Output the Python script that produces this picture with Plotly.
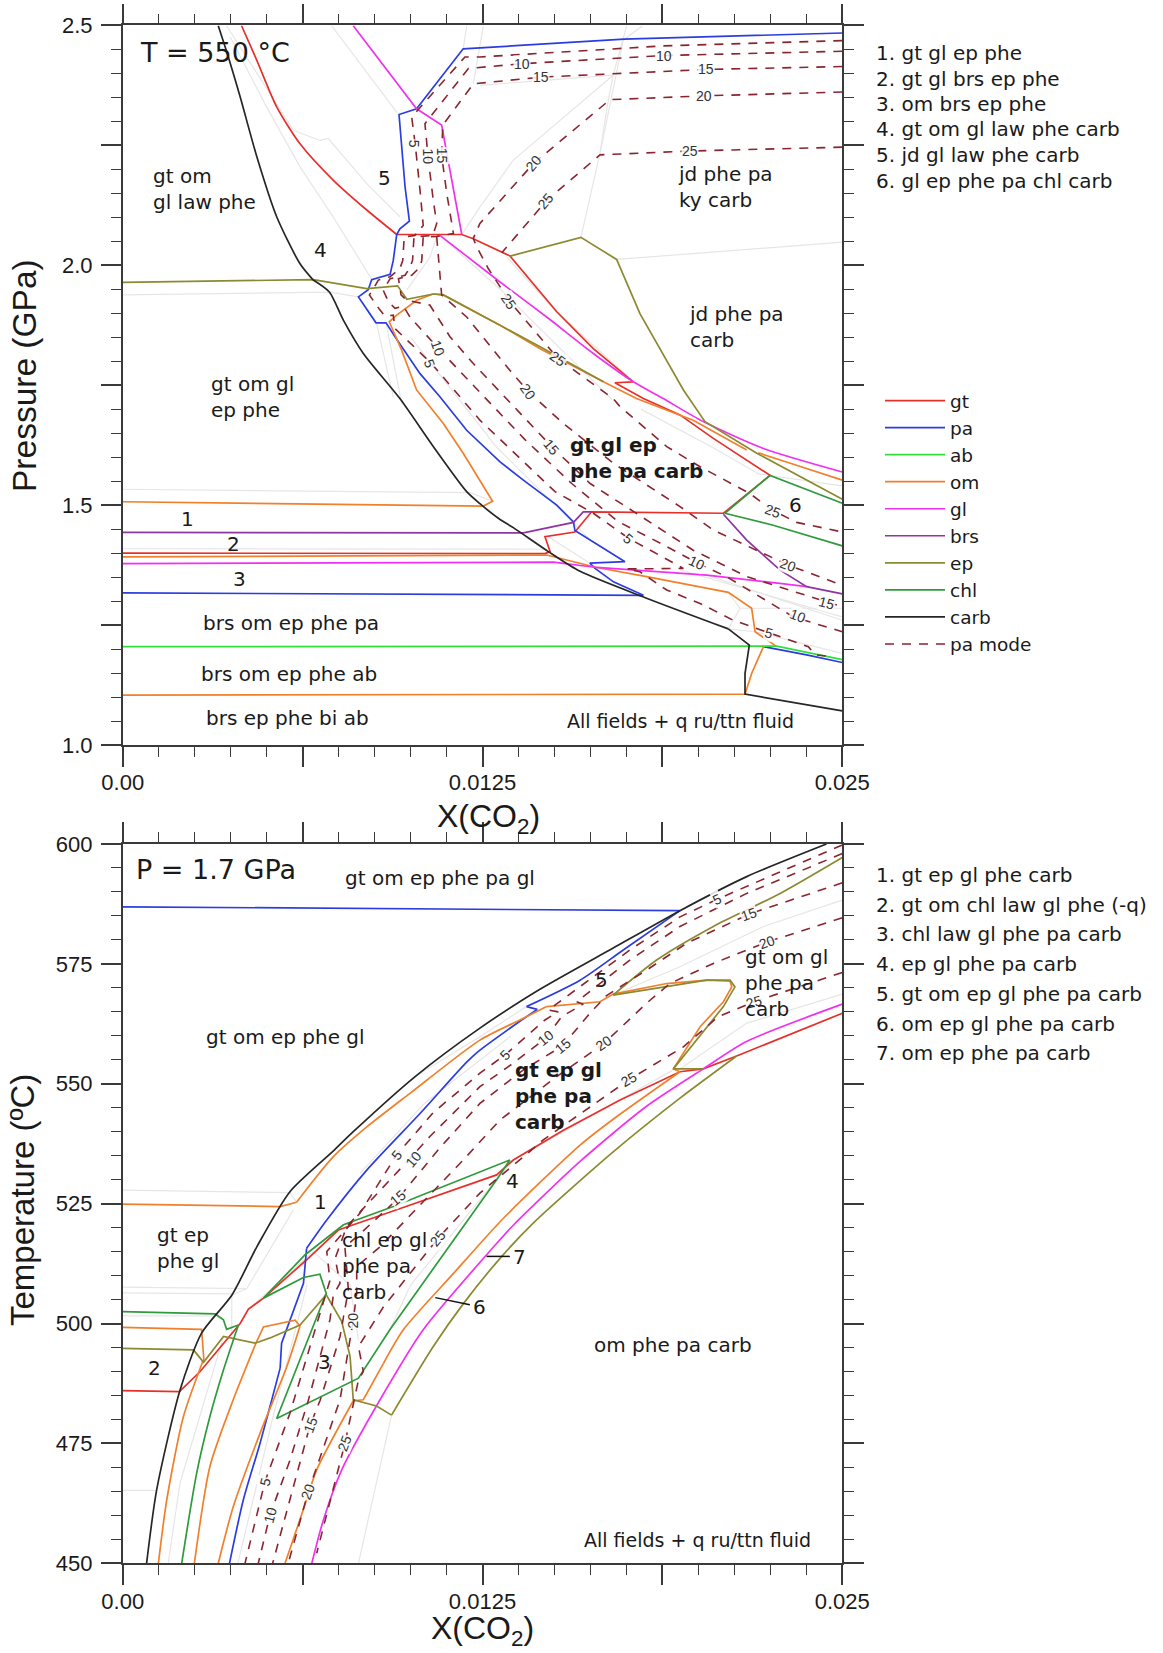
import plotly.graph_objects as go

# X(CO2) values are written in units of 1e-3; second value is P (GPa) or T (deg C)
XSCALE = 1e-3

# ---------- top panel, T = 550 C ----------
top_gt1 = [(4.13,2.499),(4.66,2.427),(5.35,2.330),(6.16,2.253),(7.32,2.177),(8.48,2.115),(9.52,2.064)]
top_gt2 = [(9.52,2.064),(11.78,2.064),(12.18,2.055),(13.46,2.019),(15.08,1.903),(16.35,1.826),(17.74,1.757),(17.10,1.755),(18.09,1.722),(19.36,1.688),(20.52,1.639),(22.49,1.562),(20.87,1.483),(16.29,1.486),(15.71,1.444),(14.67,1.434),(14.85,1.403),(14.67,1.399),(0,1.400)]
top_pa1 = [(25,2.484),(18.76,2.474),(17.42,2.471),(13.8,2.458),(11.83,2.451),(10.21,2.326),(9.60,2.314),(9.81,2.163),(9.96,2.092),(9.63,2.076),(9.52,2.064),(9.40,2.010),(9.29,1.981),(8.65,1.970),(8.53,1.949),(8.19,1.934),(8.80,1.880),(9.15,1.880),(9.46,1.851),(10.33,1.774),(11.02,1.726),(11.95,1.656),(13.11,1.590),(13.92,1.552),(15.08,1.500),(15.66,1.465),(15.71,1.447),(17.45,1.382),(16.23,1.379),(16.41,1.368),(17.05,1.340),(18.09,1.312),(0,1.317)]
top_pa2 = [(22.26,1.205),(23.76,1.188),(25,1.172)]
top_ab = [(0,1.205),(22.72,1.206),(25,1.178)]
top_om1 = [(0,1.507),(12.53,1.498),(12.85,1.508),(11.83,1.608),(11.14,1.670),(10.21,1.740),(9.69,1.823),(9.26,1.882),(9.52,1.896),(10.21,1.927),(10.79,1.940),(11.14,1.938),(13.11,1.875),(14.5,1.826),(16.7,1.757),(17.85,1.722),(19.82,1.677),(21.68,1.615)]
top_om2 = [(22.08,1.609),(23.41,1.583),(25,1.552)]
top_om3 = [(0,1.392),(14.73,1.396),(16.47,1.370),(18.2,1.351),(21.04,1.318),(21.85,1.285),(21.97,1.236),(22.7,1.206)]
top_om4 = [(0,1.104),(21.62,1.106),(21.85,1.149),(22.26,1.205)]
top_gl1 = [(8.01,2.499),(10.21,2.326),(11.08,2.292),(11.43,2.177),(11.78,2.064)]
top_gl2 = [(11.02,2.062),(13.11,1.965),(14.73,1.892),(16.35,1.816),(17.74,1.757),(18.78,1.722),(20.17,1.674),(22.26,1.618),(25,1.569)]
top_gl3 = [(0,1.378),(14.96,1.381),(16.47,1.370),(20.29,1.354),(22.83,1.337),(23.76,1.330)]
top_brs1 = [(0,1.443),(13.92,1.442),(15.66,1.464),(16.0,1.486),(16.29,1.486)]
top_brs2 = [(20.87,1.481),(21.68,1.427),(22.83,1.365),(23.76,1.330),(25,1.315)]
top_ep1 = [(0,1.964),(6.62,1.970),(8.48,1.951),(9.55,1.957),(9.87,1.929),(10.79,1.940),(11.14,1.938),(13.11,1.875),(14.5,1.830),(16.7,1.757)]
top_ep2 = [(13.46,2.019),(15.92,2.058),(17.16,2.012),(17.97,1.899),(19.48,1.740),(20.23,1.674),(22.03,1.608),(25,1.512)]
top_chl1 = [(25,1.504),(22.49,1.562),(20.92,1.483),(22.6,1.458),(25,1.415)]
top_carb1 = [(3.32,2.499),(3.67,2.434),(4.08,2.351),(4.66,2.226),(5.35,2.101),(6.16,2.003),(6.62,1.969)]
top_carb2 = [(6.62,1.969),(7.18,1.944),(7.67,1.885),(8.36,1.816),(9.63,1.722),(10.79,1.622),(11.95,1.528),(12.41,1.503),(13.11,1.470),(13.57,1.453),(14.79,1.403),(15.89,1.362),(18.20,1.306),(21.04,1.242)]
top_carb3 = [(21.04,1.242),(21.77,1.208),(21.62,1.149),(21.62,1.106),(25,1.071)]
top_mode5 = [(25,2.468),(18.76,2.457),(12.41,2.434),(11.89,2.434),(10.04,2.309),(10.16,2.253),(10.33,2.156),(10.44,2.083),(10.15,2.062),(9.78,2.059),(9.73,2.010),(9.63,1.993),(9.29,1.976),(8.88,1.969),(8.71,1.951),(8.57,1.938),(8.92,1.908),(9.11,1.894),(9.40,1.896),(9.46,1.868),(10.73,1.795),(12.41,1.677),(15.02,1.528),(16.35,1.483),(17.57,1.431),(19.48,1.368),(17.51,1.367),(17.97,1.361),(18.90,1.323),(20.06,1.295),(21.21,1.260),(22.03,1.243),(22.84,1.226),(23.82,1.205),(24.05,1.188),(24.69,1.184)]
top_mode10 = [(25,2.446),(18.82,2.437),(13.86,2.420),(12.41,2.411),(12.01,2.410),(10.5,2.295),(10.62,2.219),(10.79,2.135),(10.91,2.087),(10.77,2.062),(10.12,2.059),(10.07,2.010),(9.98,1.995),(9.81,1.979),(9.29,1.972),(9.05,1.948),(9.23,1.924),(9.46,1.910),(9.75,1.915),(9.98,1.892),(11.02,1.823),(12.41,1.735),(14.0,1.635),(15.6,1.545),(17.2,1.466),(18.7,1.42),(19.94,1.380),(21.0,1.350),(21.67,1.326),(23.30,1.267),(25,1.236)]
top_mode15 = [(25,2.414),(20.29,2.408),(14.55,2.392),(12.41,2.378),(12.18,2.378),(11.12,2.292),(11.08,2.229),(11.26,2.149),(11.49,2.066),(10.91,2.060),(10.44,2.059),(10.39,2.010),(10.33,1.996),(10.04,1.979),(9.58,1.972),(9.67,1.938),(9.87,1.927),(10.67,1.917),(11.37,1.851),(12.18,1.795),(14.90,1.622),(16.24,1.545),(18.2,1.469),(19.82,1.406),(21.68,1.351),(24.46,1.297),(25,1.288)]
top_mode20a = [(10.91,2.059),(11.08,1.938),(11.95,1.892),(13.45,1.781),(14.15,1.733),(15.31,1.670),(17.05,1.587),(19.36,1.497),(20.52,1.448),(22.26,1.399),(23.12,1.375),(25,1.333)]
top_mode20b = [(25,2.361),(20.23,2.353),(16.93,2.345),(14.27,2.212),(12.41,2.087),(12.18,2.056),(12.3,2.038),(12.70,1.993),(13.45,1.924),(15.13,1.805),(17.04,1.722),(17.28,1.705),(18.9,1.622),(20.06,1.580),(21.79,1.524),(22.55,1.490),(23.41,1.464),(25,1.444)]
top_mode25 = [(25,2.246),(19.71,2.238),(16.58,2.230),(14.73,2.135),(13.17,2.026)]
top_grey = [
 [(7.26,2.499),(9.52,2.319)],
 [(3.61,2.499),(4.89,2.378),(5.93,2.281),(6.85,2.260),(7.14,2.264),(8.48,2.170),(9.63,2.101)],
 [(3.73,2.476),(5.0,2.33),(6.16,2.205),(7.32,2.10),(8.71,1.965)],
 [(0,1.938),(7.2,1.944),(8.19,1.934)],
 [(11.95,2.499),(11.83,2.451)],
 [(12.53,2.499),(12.18,2.378)],
 [(17.51,2.499),(17.04,2.396),(16.87,2.344),(16.58,2.233),(15.92,2.058)],
 [(18.06,2.499),(17.39,2.469),(16.58,2.233)],
 [(17.04,2.396),(13.57,2.219),(12.41,2.121),(11.78,2.064)],
 [(12.41,2.375),(17.04,2.396)],
 [(17.16,2.012),(25,2.048)],
 [(13.34,2.017),(15.02,1.906),(17.74,1.757)],
 [(0,1.533),(12.07,1.526),(12.85,1.508)],
 [(0,1.409),(14.6,1.408)],
 [(14.79,1.434),(16.23,1.379)],
 [(21.04,1.318),(21.45,1.285),(21.04,1.242)],
 [(21.04,1.242),(21.97,1.236),(25,1.191)],
 [(21.45,1.285),(25,1.285)],
 [(19.36,1.365),(25,1.267)],
 [(20.29,1.354),(25,1.260)],
 [(8.82,1.878),(9.40,1.726)],
 [(9.15,1.880),(9.69,1.712)],
 [(10.0,1.85),(13,1.62),(16.2,1.43)],
 [(18.0,1.70),(20.5,1.62),(22.1,1.565),(25,1.54)],
 [(10.91,2.06),(10.68,2.017),(9.87,1.948)],
 [(11.02,2.062),(13.11,1.95),(17.0,1.72)],
]
top_contour_labels = [("5",10.10,2.252,90),("10",10.62,2.226,90),("15",11.08,2.229,90),("10",10.97,1.826,70),("5",10.68,1.795,70),
 ("10",13.86,2.420,0),("10",18.82,2.437,0),("15",14.53,2.392,0),("15",20.25,2.408,0),("20",20.2,2.352,0),("25",19.71,2.238,0),
 ("20",14.29,2.212,-50),("25",14.69,2.133,-50),("25",13.43,1.924,55),("25",15.13,1.805,35),("20",14.09,1.736,55),
 ("15",14.90,1.622,50),("5",17.57,1.429,40),("10",19.96,1.380,25),("25",22.58,1.488,20),("20",23.12,1.375,20),("15",24.46,1.297,15),("10",23.47,1.269,20),("5",22.46,1.234,15)]
top_fields = [("gt om<br>gl law phe",1.03,2.159,False),("gt om gl<br>ep phe",3.04,1.725,False),("jd phe pa<br>ky carb",19.25,2.162,False),("jd phe pa<br>carb",19.65,1.872,False),
 ("gt gl ep<br>phe pa carb",15.51,1.599,True),("brs om ep phe pa",2.75,1.255,False),("brs om ep phe ab",2.68,1.149,False),("brs ep phe bi ab",2.86,1.057,False),("All fields + q ru/ttn fluid",15.4,1.05,False),
 ("1",2.0,1.472,False),("2",3.6,1.419,False),("3",3.8,1.345,False),("4",6.6,2.032,False),("5",8.85,2.181,False),("6",23.1,1.5,False)]
top_list = ["1. gt gl ep phe","2. gt gl brs ep phe","3. om brs ep phe","4. gt om gl law phe carb","5. jd gl law phe carb","6. gl ep phe pa chl carb"]

# ---------- bottom panel, P = 1.7 GPa ----------
bot_gt = [(0,486),(1.97,485.8),(2.69,490),(4.08,500),(4.37,503),(4.89,505.3),(6.39,513.3),(7.49,519.5),(9.17,523),(12.99,531),(13.57,534.1),(15.31,540.3),(17.28,546.6),(19.36,552.5),(20.17,553.1),(21.33,555.8),(25,564.7)]
bot_pa1 = [(0,586.9),(19.36,586.1)]
bot_pa2 = [(19.36,586.1),(17.39,577.9),(15.89,571.6),(14.03,566.1)]
bot_pa3 = [(14.03,566.1),(14.40,565.5),(13.86,563.3)]
bot_pa4 = [(13.86,563.3),(12.41,557.0),(11.95,554.5),(10.33,543.8),(8.48,532.0),(7.09,521.6),(6.39,515.7)]
bot_pa5 = [(6.39,515.7),(6.28,508.4),(5.52,495.9),(5.47,490.7)]
bot_pa6 = [(5.47,490.7),(4.77,475.0),(4.19,463.2),(3.71,450)]
bot_om1 = [(0,524.9),(5.47,524.4),(6.04,525.3)]
bot_om2 = [(6.04,525.3),(7.32,534.8),(8.48,541.0),(9.98,548.0),(12.41,559.1),(13.8,563.3),(14.73,566.1)]
bot_om3 = [(14.73,566.1),(16.58,567.1),(17.04,568.7),(18.9,570.9),(20.29,571.6),(21.1,571.4),(21.16,570.2),(20.87,567.1),(20.06,561.9),(19.13,553.1),(19.36,552.5)]
bot_om4 = [(19.36,552.5),(17.04,542.6),(15.89,537.2),(13.22,521.9),(11.5,510.5),(9.75,498.7),(9.06,491.7)]
bot_om5 = [(9.06,491.7),(8.36,484.1),(8.01,483.9)]
bot_om6 = [(8.01,483.9),(6.74,469.5),(6.27,461.1),(5.64,450)]
bot_om7 = [(0,499.2),(2.74,498.8),(2.82,492.4)]
bot_om8 = [(2.49,450),(3.03,470.2),(3.84,484.1),(4.63,495.9)]
bot_om9 = [(4.63,495.9),(4.89,499.3),(5.99,500.7),(6.16,499.5)]
bot_om10 = [(6.16,499.5),(5.7,491),(4.77,477.1),(3.84,461.8),(3.32,450)]
bot_om11 = [(2.8,492.4),(2.11,480.6),(1.53,463.2),(1.24,450)]
bot_gl = [(6.57,450),(6.97,459),(7.61,469.5),(8.94,484.1),(10.44,498.7),(12.99,516.7),(13.57,520.5),(15.89,533.8),(18.2,545.3),(20.17,553.1),(21.67,558.8),(25,566.6)]
bot_ep1 = [(0,494.8),(2.46,494.5),(2.81,491.9),(3.5,497.3),(4.6,495.9),(5.12,497),(6.16,499.7),(7.07,506),(7.61,500.4),(7.9,493.1),(8.01,484.1),(8.82,482.8),(9.34,480.9)]
bot_ep2 = [(9.34,480.9),(10.79,495.2),(11.83,504.1),(13.11,513.6),(14.27,521),(17.04,535.8),(19.36,547),(21.33,555.8)]
bot_ep3 = [(25,597.2),(22.84,589.7),(20.52,582.8),(18.55,575.8),(17.04,568.5)]
bot_ep4 = [(17.04,568.5),(20.29,571.6),(21.1,571.6),(21.27,570.2),(20.87,566.1),(19.13,553.1),(20.17,553.1)]
bot_chl1 = [(0,502.5),(3.21,502.0),(3.5,500.8),(3.61,498.8),(4.02,499.7)]
bot_chl2 = [(4.02,499.7),(3.5,490.3),(3.03,480.6),(2.57,468.8),(2.05,450)]
bot_chl3 = [(4.89,505.3),(6.33,514.3),(7.67,520.6),(9.4,524.4),(13.45,534.1),(12.99,530),(9.28,498.7),(8.36,490),(8.19,488.6),(5.35,480.2),(7.07,506.3),(6.85,510.3),(6.28,509.6),(4.89,505.3)]
bot_carb = [(0.83,450),(1.18,465.3),(1.99,486.1),(2.74,498.0),(3.79,505.9),(4.66,516.0),(5.81,527.5),(7.32,536.0),(8.01,540.0),(10.16,551.5),(12.41,561.6),(14.38,569.3),(17.04,578.3),(19.36,586.1),(21.68,593.2),(24.45,600)]
bot_mode5 = [(25,599.8),(20.66,588.5),(19.36,584.8),(17.62,577.9),(16.35,572.3),(14.79,565.4),(15.13,565),(14.67,563.3),(13.28,556),(12.41,552.2),(10.79,544),(9.52,535.2),(8.24,523),(7.09,515),(7.2,509),(7.03,505.6),(6.39,492.4),(5.81,481.3),(4.94,467),(4.25,450)]
bot_mode10 = [(25,598),(21.68,589.7),(19.36,582.8),(17.62,575.8),(15.77,567.1),(16.0,566.6),(15.25,564),(14.69,559.5),(13.57,554.3),(12.41,549.4),(10.67,539),(10.04,534.8),(8.36,524),(7.78,520.2),(7.38,513.6),(7.55,508.4),(7.32,506),(7.2,500.8),(6.45,484),(5.81,471.5),(5.12,460.1),(4.71,450)]
bot_mode15 = [(25,591.9),(21.77,585.4),(19.59,579.3),(18.2,573.7),(16.81,568.4),(16.23,564.7),(15.28,557.9),(13.92,552.9),(12.41,545.9),(11.0,536.5),(9.57,526.1),(8.3,519),(7.72,516),(7.84,507),(7.55,497.3),(6.86,484),(6.51,478.8),(5.21,450)]
bot_mode20 = [(25,584.6),(22.4,579.6),(20.52,575.1),(19.01,570.9),(18.2,566.8),(16.72,558.4),(15.08,551.5),(13.1,542.4),(11.83,534.1),(8.94,516),(8.13,511.9),(8.13,506.3),(8.01,500.7),(7.55,484.1),(6.45,465),(5.75,450)]
bot_mode25 = [(25,573.2),(21.93,567.1),(20.69,564),(19.48,557.7),(17.6,550.9),(15.89,543.8),(14.61,538.3),(14.15,535.9),(12.41,527.2),(10.96,517.8),(9.06,503.5),(8.19,495.2),(8.36,490),(8.19,488.2),(7.72,475),(6.74,452.1)]
bot_grey = [
 [(0,527.8),(5.81,527.3),(6.04,525.3)],
 [(0,507.6),(4.31,507.3)],
 [(0,506.4),(3.79,506.2)],
 [(0,501.6),(3.21,501.6)],
 [(0,465.2),(1.18,465.2)],
 [(3.79,505.9),(4.31,507.3),(5.93,523.7)],
 [(3.79,505.9),(3.79,498)],
 [(3.5,497.3),(2.69,480.6),(1.99,466.7),(1.58,450)],
 [(6.62,515),(7.9,508),(8.19,496.6)],
 [(6.62,515),(4.37,503)],
 [(6.4,508),(5.2,480),(4.0,450)],
 [(9.34,480.9),(8.19,450)],
 [(25,588.3),(22.26,582.8),(19.36,574.4),(17.04,568.5)],
 [(25,568.7),(21.67,562.6),(19.36,553.1)],
 [(19.13,552.9),(13.57,534.1),(12.3,525),(10,508),(9.28,498.7)],
 [(10.16,551.5),(12.41,559.8),(14.0,566.0)],
 [(8.24,531.3),(10.5,546),(13.5,560)],
]
bot_leaders = [[(10.86,505.4),(12.06,503.9)],[(12.64,514),(13.45,514)]]
bot_contour_labels = [("5",20.66,588.5,-25),("15",21.77,585.4,-20),("20",22.4,579.6,-20),("25",21.93,567.1,-15),("5",13.28,556,-45),("10",14.69,559.5,-40),("15",15.28,557.9,-40),("20",16.72,558.4,-35),("25",17.6,550.9,-30),
 ("5",9.52,535.1,-50),("10",10.1,534.4,-50),("15",9.55,526.2,-40),("25",10.96,517.8,-50),("20",8.01,500.7,-90),("15",6.53,478.8,-70),("5",4.94,467,-75),("10",5.12,460.1,-75),("20",6.45,465,-70),("25",7.72,475,-70)]
bot_fields = [("gt om ep phe pa gl",7.7,593,False),("gt om ep phe gl",2.86,559.7,False),("gt ep<br>phe gl",1.17,515.8,False),("gt om gl<br>phe pa<br>carb",21.59,571,False),
 ("gt ep gl<br>phe pa<br>carb",13.6,547.4,True),("chl ep gl<br>phe pa<br>carb",7.59,512,False),("om phe pa carb",16.35,495.5,False),("All fields + q ru/ttn fluid",15.98,454.8,False),
 ("1",6.6,525.4,False),("2",0.85,490.7,False),("3",6.75,492,False),("4",13.27,529.8,False),("5",16.38,571.6,False),("6",12.13,503.4,False),("7",13.53,513.8,False)]
bot_list = ["1. gt ep gl phe carb","2. gt om chl law gl phe (-q)","3. chl law gl phe pa carb","4. ep gl phe pa carb","5. gt om ep gl phe pa carb","6. om ep gl phe pa carb","7. om ep phe pa carb"]

# ---------- styling ----------
W, H = 1163, 1653
COLORS = dict(gt="#e8302a", pa="#2c3de0", ab="#2fe03a", om="#f0802c", gl="#f032f0", brs="#8f35a0",
              ep="#8c8a30", chl="#2f9a3c", carb="#262626")
MODE_COLOR = "#8a2530"
GREY = "#e6e6e6"
AX = "#3a3a3a"
SANS = "DejaVu Sans"
ARIAL = "Liberation Sans"

# curves that run smoothly in the reference
SMOOTH = [top_gt1, top_gl2, top_carb1, top_carb2, top_om2,
          bot_pa2, bot_pa4, bot_pa6, bot_om2, bot_om4, bot_om6, bot_om8, bot_om10, bot_om11,
          bot_gl, bot_ep2, bot_ep3, bot_chl2, bot_carb]

fig = go.Figure()

def add(path, color, name=None, axis=1, width=1.7, dash=None):
    xs = [p[0] * XSCALE for p in path]
    ys = [p[1] for p in path]
    ax = "" if axis == 1 else "2"
    line = dict(color=color, width=width, dash=dash)
    if path in SMOOTH:
        line.update(shape="spline", smoothing=0.7)
    fig.add_trace(go.Scatter(x=xs, y=ys, mode="lines", xaxis="x" + ax, yaxis="y" + ax, line=line,
                             name=name, showlegend=name is not None, hoverinfo="skip"))

for g in top_grey:
    add(g, GREY, axis=1, width=1.2)
for g in bot_grey:
    add(g, GREY, axis=2, width=1.2)

series = [
    ("gt", [top_gt1, top_gt2], [bot_gt]),
    ("pa", [top_pa1, top_pa2], [bot_pa1, bot_pa2, bot_pa3, bot_pa4, bot_pa5, bot_pa6]),
    ("ab", [top_ab], []),
    ("om", [top_om1, top_om2, top_om3, top_om4], [bot_om1, bot_om2, bot_om3, bot_om4, bot_om5, bot_om6, bot_om7, bot_om8, bot_om9, bot_om10, bot_om11]),
    ("gl", [top_gl1, top_gl2, top_gl3], [bot_gl]),
    ("brs", [top_brs1, top_brs2], []),
    ("ep", [top_ep1, top_ep2], [bot_ep1, bot_ep2, bot_ep3, bot_ep4]),
    ("chl", [top_chl1], [bot_chl1, bot_chl2, bot_chl3]),
    ("carb", [top_carb1, top_carb2, top_carb3], [bot_carb]),
]
for name, tops, bots in series:
    for i, path in enumerate(tops):
        add(path, COLORS[name], name=name if i == 0 else None, axis=1)
    for path in bots:
        add(path, COLORS[name], axis=2)

DASH = "9px,8px"
top_modes = [top_mode5, top_mode10, top_mode15, top_mode20a, top_mode20b, top_mode25]
bot_modes = [bot_mode5, bot_mode10, bot_mode15, bot_mode20, bot_mode25]
for i, path in enumerate(top_modes):
    add(path, MODE_COLOR, name="pa mode" if i == 0 else None, axis=1, width=1.6, dash=DASH)
for path in bot_modes:
    add(path, MODE_COLOR, axis=2, width=1.6, dash=DASH)
for path in bot_leaders:
    add(path, "#111111", axis=2, width=1.5)

anns = []

def text(t, x, y, xref, yref, size, family=SANS, bold=False, color="#1a1a1a", **kw):
    anns.append(dict(text=("<b>%s</b>" % t) if bold else t, x=x, y=y, xref=xref, yref=yref, showarrow=False,
                     xanchor=kw.pop("xanchor", "left"), yanchor=kw.pop("yanchor", "middle"), align="left",
                     font=dict(family=family, size=size, color=color), borderpad=0, **kw))

for labels, xr, yr in ((top_contour_labels, "x", "y"), (bot_contour_labels, "x2", "y2")):
    for t, x, y, ang in labels:
        text(t, x * XSCALE, y, xr, yr, 14, family=ARIAL, color="#333333", xanchor="center", textangle=ang,
             bgcolor="rgba(255,255,255,0.85)")
for fields, xr, yr in ((top_fields, "x", "y"), (bot_fields, "x2", "y2")):
    for t, x, y, b in fields:
        size = 19 if t.startswith("All") else 20
        text(t, x * XSCALE, y, xr, yr, size, bold=b)

text("T = 550 °C", 0.00058, 2.444, "x", "y", 27)
text("P = 1.7 GPa", 0.00044, 594.7, "x2", "y2", 27)

def paper(X, Y):
    return X / W, 1 - Y / H

for i, t in enumerate(top_list):
    px_, py_ = paper(875, 53 + 25.5 * i)
    text(t, px_, py_, "paper", "paper", 20)
for i, t in enumerate(bot_list):
    px_, py_ = paper(875, 875 + 29.7 * i)
    text(t, px_, py_, "paper", "paper", 20)

for t, X, Y, ang, size in (("Pressure (GPa)", 24, 376, -90, 33.5), ("Temperature (ºC)", 22, 1200, -90, 33),
                           ("X(CO<sub>2</sub>)", 488, 818, 0, 32), ("X(CO<sub>2</sub>)", 482, 1630, 0, 32)):
    px_, py_ = paper(X, Y)
    text(t, px_, py_, "paper", "paper", size, family=ARIAL, xanchor="center", textangle=ang)

def xaxis(anchor, dom):
    return dict(domain=dom, range=[0, 0.025], anchor=anchor, automargin=False, showline=True, linecolor=AX, linewidth=1.6, mirror="ticks",
                showgrid=False, zeroline=False, ticks="outside", ticklen=20, tickwidth=1.6, tickcolor=AX, ticklabelstandoff=-3,
                tickmode="array", tickvals=[0, 0.00625, 0.0125, 0.01875, 0.025], ticktext=["0.00", "", "0.0125", "", "0.025"],
                tickfont=dict(family=ARIAL, size=22, color="#1a1a1a"),
                minor=dict(ticks="outside", ticklen=10, tickwidth=1.4, tickcolor=AX, tickmode="linear", tick0=0, dtick=0.00125, showgrid=False))

def yaxis(anchor, dom, rng, vals, txt, minor):
    return dict(domain=dom, range=rng, anchor=anchor, automargin=False, showline=True, linecolor=AX, linewidth=1.6, mirror="ticks",
                showgrid=False, zeroline=False, ticks="outside", ticklen=20, tickwidth=1.6, tickcolor=AX, ticklabelstandoff=4,
                tickmode="array", tickvals=vals, ticktext=txt,
                tickfont=dict(family=ARIAL, size=22, color="#1a1a1a"),
                minor=dict(ticks="outside", ticklen=10, tickwidth=1.4, tickcolor=AX, tickmode="linear", tick0=rng[0], dtick=minor, showgrid=False))

dx = [122.7 / W, 842.3 / W]
d1 = [1 - 745.0 / H, 1 - 25.3 / H]
d2 = [1 - 1563.3 / H, 1 - 844.0 / H]

fig.update_layout(
    width=W, height=H, margin=dict(l=0, r=0, t=0, b=0, autoexpand=False), autosize=False,
    paper_bgcolor="white", plot_bgcolor="white",
    xaxis=xaxis("y", dx),
    yaxis=yaxis("x", d1, [1.0, 2.5], [1.0, 1.25, 1.5, 1.75, 2.0, 2.25, 2.5], ["1.0", "", "1.5", "", "2.0", "", "2.5"], 0.05),
    xaxis2=xaxis("y2", dx),
    yaxis2=yaxis("x2", d2, [450, 600], [450, 475, 500, 525, 550, 575, 600], ["450", "475", "500", "525", "550", "575", "600"], 5),
    legend=dict(x=880 / W, y=1 - 382 / H, xanchor="left", yanchor="top", bgcolor="rgba(0,0,0,0)",
                itemwidth=60, tracegroupgap=0, font=dict(family=SANS, size=18.5, color="#1a1a1a")),
    annotations=anns,
)
fig.write_html("out.html", config=dict(displayModeBar=False), post_script="document.body.style.margin='0';")
